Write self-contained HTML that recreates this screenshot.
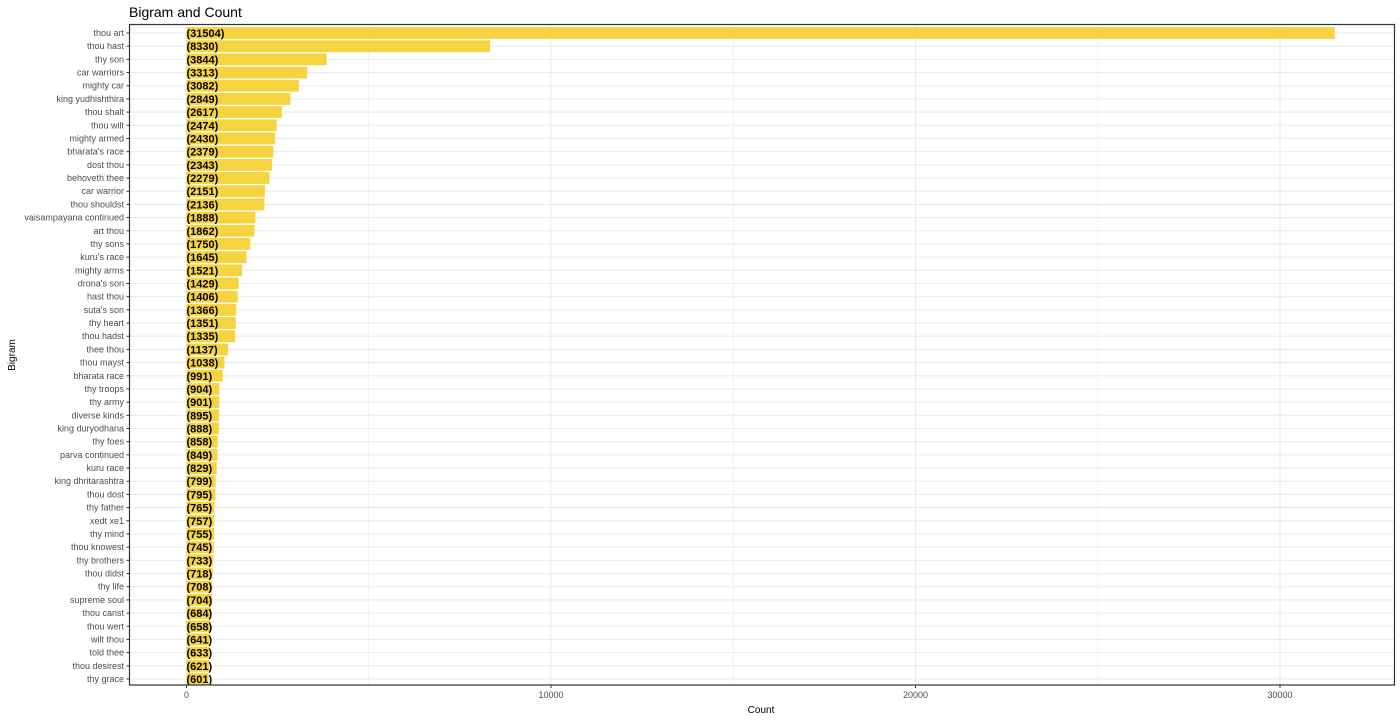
<!DOCTYPE html>
<html><head><meta charset="utf-8"><style>
body{margin:0;background:#fff;font-family:"Liberation Sans",Arial,sans-serif}
svg text{font-family:"Liberation Sans",Arial,sans-serif}
</style></head><body>
<svg id="chart" width="1400" height="720" xmlns="http://www.w3.org/2000/svg">
<text x="129" y="17" font-size="14" fill="#000">Bigram and Count</text>
<g id="grid"></g><g id="bars"></g><g id="labels"></g><g id="yaxis"></g><g id="xaxis"></g>
<rect x="129.5" y="24.5" width="1265" height="660.5" fill="none" stroke="#333" stroke-width="1.2"/>
<text x="761" y="713" font-size="10" text-anchor="middle" fill="#000">Count</text>
<text transform="translate(15,355) rotate(-90)" font-size="10" text-anchor="middle" fill="#000">Bigram</text>
</svg>
<script>
const categories=["thou art","thou hast","thy son","car warriors","mighty car","king yudhishthira","thou shalt","thou wilt","mighty armed","bharata's race","dost thou","behoveth thee","car warrior","thou shouldst","vaisampayana continued","art thou","thy sons","kuru's race","mighty arms","drona's son","hast thou","suta's son","thy heart","thou hadst","thee thou","thou mayst","bharata race","thy troops","thy army","diverse kinds","king duryodhana","thy foes","parva continued","kuru race","king dhritarashtra","thou dost","thy father","xedt xe1","thy mind","thou knowest","thy brothers","thou didst","thy life","supreme soul","thou canst","thou wert","wilt thou","told thee","thou desirest","thy grace"];
const counts=[31504,8330,3844,3313,3082,2849,2617,2474,2430,2379,2343,2279,2151,2136,1888,1862,1750,1645,1521,1429,1406,1366,1351,1335,1137,1038,991,904,901,895,888,858,849,829,799,795,765,757,755,745,733,718,708,704,684,658,641,633,621,601];
const xTicks=[0,10000,20000,30000];
const xMinorTicks=[5000,15000,25000];
const NS="http://www.w3.org/2000/svg";
const x0=186.5,pxPer=364.5/10000,yTop=33,step=(679-33)/49;
const X=v=>x0+v*pxPer;
const Y=i=>yTop+i*step;
function mk(tag,attrs,parent,txt){const e=document.createElementNS(NS,tag);for(const k in attrs)e.setAttribute(k,attrs[k]);if(txt!==undefined)e.textContent=txt;document.getElementById(parent).appendChild(e);return e;}
xMinorTicks.forEach(t=>{const l=mk('line',{x1:X(t),x2:X(t),y1:25,y2:685,stroke:'#ebebeb','stroke-width':0.6},'grid');

});
xTicks.forEach(t=>{const l=mk('line',{x1:X(t),x2:X(t),y1:25,y2:685,stroke:'#ebebeb','stroke-width':1.1},'grid');


const tk=mk('line',{x1:X(t),x2:X(t),y1:685,y2:688,stroke:'#333'},'xaxis');


const tx=mk('text',{x:X(t),y:698,'font-size':9,'text-anchor':'middle',fill:'#4d4d4d'},'xaxis',String(t));

});
categories.forEach((c,i)=>{const y=Y(i);
const g=mk('line',{x1:130,x2:1394,y1:y,y2:y,stroke:'#ebebeb','stroke-width':1.1},'grid');


const b=mk('rect',{x:x0,y:y-5.9,width:X(counts[i])-x0,height:11.8,fill:'#F6D33F'},'bars');


const lb=mk('text',{x:x0,y:y+4,'font-size':11,'font-weight':'bold',fill:'#000'},'labels','('+counts[i]+')');


const tk=mk('line',{x1:126.5,x2:129.5,y1:y,y2:y,stroke:'#333'},'yaxis');


const tl=mk('text',{x:124,y:y+3,'font-size':9,'text-anchor':'end',fill:'#4d4d4d'},'yaxis',c);

});
</script>
</body></html>
